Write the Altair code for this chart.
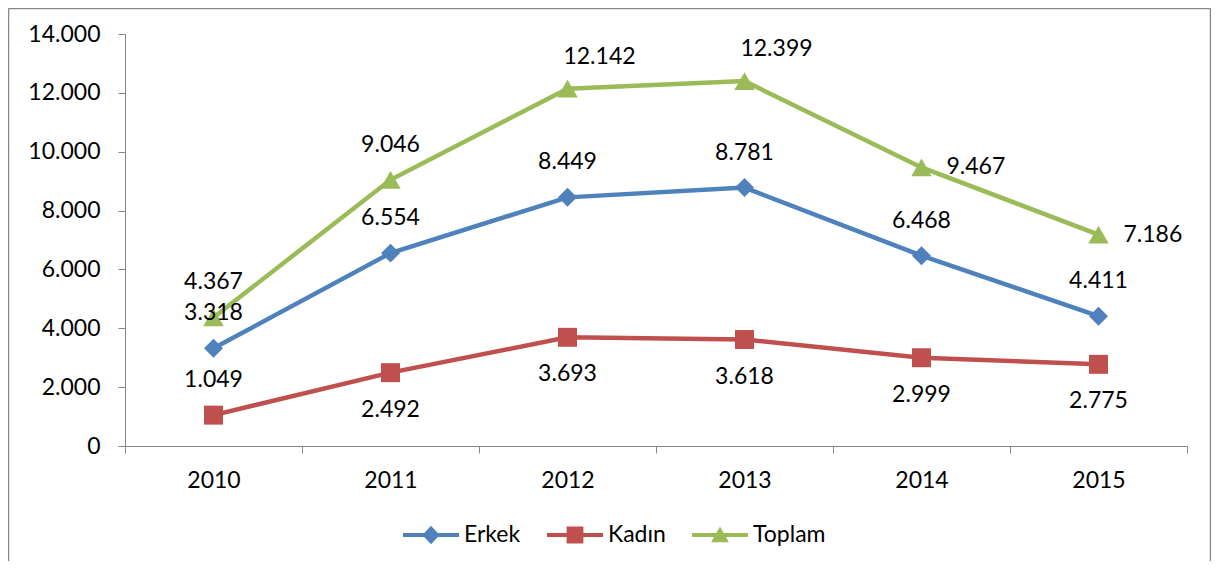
import altair as alt
import pandas as pd

years = ["2010", "2011", "2012", "2013", "2014", "2015"]
erkek = [3318, 6554, 8449, 8781, 6468, 4411]
kadin = [1049, 2492, 3693, 3618, 2999, 2775]
toplam = [4367, 9046, 12142, 12399, 9467, 7186]
series_names = ["Erkek", "Kadın", "Toplam"]
y_ticks = [0, 2000, 4000, 6000, 8000, 10000, 12000, 14000]

colors = ["#4F81BD", "#C0504D", "#9BBB59"]
shapes = ["diamond", "square", "triangle-up"]
sizes = [360, 360, 420]

# where each data label sits relative to its point
placement = {
    "Erkek": ["above"] * 6,
    "Kadın": ["above", "below", "below", "below", "below", "below"],
    "Toplam": ["above", "above", "aboveright", "aboveright", "right", "right"],
}

rows = []
for name, vals in zip(series_names, [erkek, kadin, toplam]):
    for yr, v, p in zip(years, vals, placement[name]):
        rows.append({"year": yr, "series": name, "value": v, "place": p})
df = pd.DataFrame(rows)

FONT = "Lato"
FS = 23
AXIS_GRAY = "#868686"

x_enc = alt.X(
    "year:O",
    scale=alt.Scale(type="band", domain=years, paddingInner=0, paddingOuter=0),
    axis=alt.Axis(
        title=None, labelAngle=0, tickBand="extent", tickSize=7,
        labelPadding=16, labelFont=FONT, labelFontSize=FS, labelColor="black",
        domainColor=AXIS_GRAY, tickColor=AXIS_GRAY, grid=False,
    ),
)
y_enc = alt.Y(
    "value:Q",
    scale=alt.Scale(domain=[0, 14000], nice=False),
    axis=alt.Axis(
        title=None, values=y_ticks, tickSize=7, labelPadding=18,
        labelFont=FONT, labelFontSize=FS, labelColor="black",
        domainColor=AXIS_GRAY, tickColor=AXIS_GRAY, grid=False,
        labelExpr="replace(format(datum.value, ',d'), ',', '.')",
    ),
)

base = alt.Chart(df)

line_layers = []
point_layers = []
for name, col, shp, sz in zip(series_names, colors, shapes, sizes):
    sub = base.transform_filter(alt.datum.series == name)
    line_layers.append(
        sub.mark_line(strokeWidth=4.5, color=col).encode(x=x_enc, y=y_enc)
    )
    point_layers.append(
        sub.mark_point(shape=shp, size=sz, filled=True, opacity=1, color=col)
        .encode(x=x_enc, y=y_enc)
    )

# legend symbols: line segment with marker in the middle
legend_paths = [
    "M-1,-0.075L1,-0.075L1,0.075L-1,0.075Z M0,-0.33L0.31,0L0,0.33L-0.31,0Z",
    "M-1,-0.075L1,-0.075L1,0.075L-1,0.075Z M-0.3,-0.3L0.3,-0.3L0.3,0.3L-0.3,0.3Z",
    "M-1,-0.075L1,-0.075L1,0.075L-1,0.075Z M0,-0.3L0.32,0.26L-0.32,0.26Z",
]
legend_def = alt.Legend(
    orient="none", legendX=278, legendY=473, direction="horizontal",
    title=None, symbolSize=3136, symbolStrokeWidth=0, symbolOpacity=1,
    labelFont=FONT, labelFontSize=FS, labelColor="black",
    labelOffset=5, columnPadding=26, padding=0,
)
legend_layer = base.mark_point(filled=True, opacity=0).encode(
    x=x_enc,
    y=y_enc,
    color=alt.Color(
        "series:N", scale=alt.Scale(domain=series_names, range=colors), legend=legend_def
    ),
    shape=alt.Shape(
        "series:N", scale=alt.Scale(domain=series_names, range=legend_paths), legend=legend_def
    ),
)

label_specs = {
    "above": dict(align="center", dx=0, dy=-35),
    "below": dict(align="center", dx=0, dy=37),
    "aboveright": dict(align="center", dx=32, dy=-32),
    "right": dict(align="left", dx=25, dy=0),
}
label_layers = []
for place, spec in label_specs.items():
    label_layers.append(
        base.transform_filter(alt.datum.place == place)
        .transform_calculate(label="replace(format(datum.value, ',d'), ',', '.')")
        .mark_text(font=FONT, fontSize=FS, color="black", baseline="middle", **spec)
        .encode(x=x_enc, y=y_enc, text="label:N")
    )

one = alt.Chart(pd.DataFrame({"a": [0]}))
frame_style = dict(color=AXIS_GRAY, strokeWidth=1.5)
border_left = one.mark_rule(**frame_style).encode(
    x=alt.value(-116.5), y=alt.value(-25.5), y2=alt.value(560)
)
border_top = one.mark_rule(**frame_style).encode(
    x=alt.value(-116.5), x2=alt.value(1085.5), y=alt.value(-25.5)
)
border_right = one.mark_rule(**frame_style).encode(
    x=alt.value(1085.5), y=alt.value(-25.5), y2=alt.value(560)
)

chart = (
    alt.layer(
        legend_layer, *line_layers, *point_layers, *label_layers,
        border_left, border_top, border_right,
    )
    .properties(
        width=1062, height=412, autosize="none",
        padding={"left": 117, "top": 26, "right": 24, "bottom": 115},
        background="white",
    )
    .configure_view(strokeWidth=0)
)

chart.save("out.html", embed_options={"renderer": "svg", "actions": False})
